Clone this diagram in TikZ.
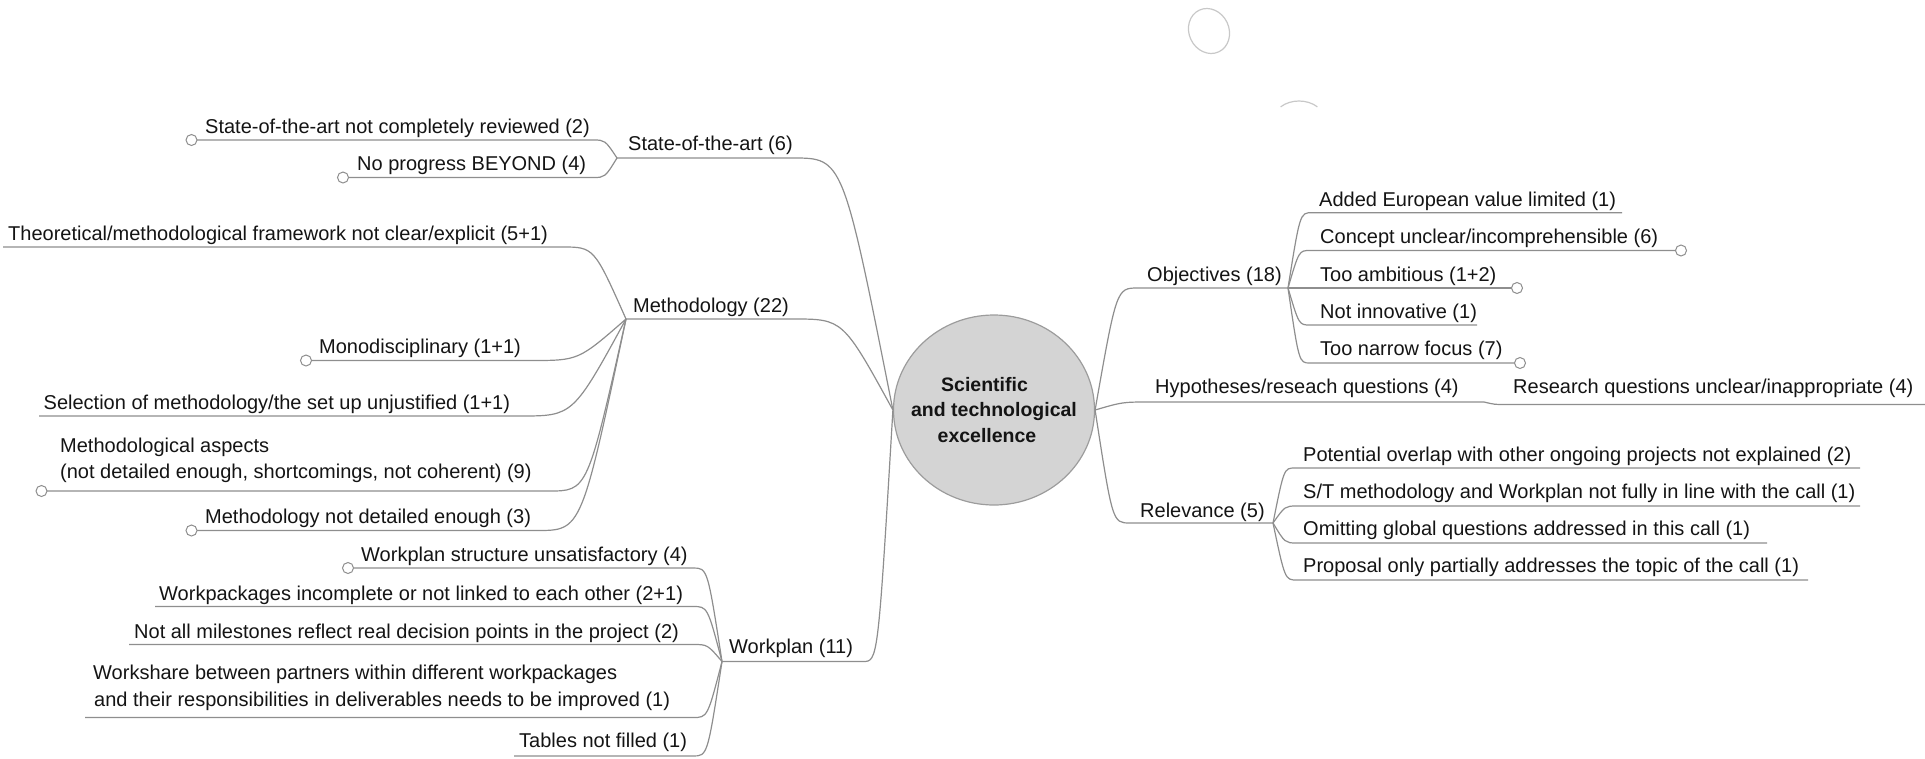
\documentclass[tikz,border=0pt]{standalone}
\usepackage{fontspec}
\setmainfont{Liberation Sans}
\usetikzlibrary{shapes.geometric,calc}
\definecolor{lc}{HTML}{8E8E8E}
\definecolor{txt}{HTML}{141414}
\definecolor{cfill}{HTML}{D4D4D4}
\definecolor{cdraw}{HTML}{9C9C9C}
\definecolor{deco}{HTML}{C8C8C8}
\newcommand\fs{\fontsize{20}{26}\selectfont}
\newcommand\hubfont{\fontsize{19.5}{25.5}\selectfont\bfseries}
% line from #1 to #2, then curve from #2 into junction #3
\newcommand\uline[3]{\draw[ln] (#1) -- (#2) .. controls ($(#2)!.5!(#3|-#2)$) .. (#3);}
\begin{document}
\begin{tikzpicture}[x=1pt,y=-1pt,
  lbl/.style={anchor=base west,inner sep=0pt,font=\fs,text=txt},
  ln/.style={draw=lc,line width=1.2pt},
  endc/.style={circle,draw=lc,fill=white,line width=1pt,minimum size=11pt,inner sep=0pt},
  hub/.style={ellipse,draw=cdraw,fill=cfill,line width=1.2pt,minimum width=201pt,minimum height=190pt,inner sep=0pt},
  hubtext/.style={align=center,font=\hubfont,text=txt,inner sep=0pt}]
\useasboundingbox (0,0) rectangle (1925,758);

% decorations at top
\draw[deco,line width=1.2pt,rotate around={25:(1209,31)}] (1209,31) ellipse [x radius=20pt,y radius=23pt];
\draw[deco,line width=1.2pt] (1299,121) ++(45:26pt and 20pt) arc[start angle=45,end angle=135,x radius=26pt,y radius=20pt];

% hub
\node[hub] (hub) at (994,410) {};
\node[hubtext] (hubt) at (994,410) {Scientific\hspace*{19pt}\\and technological\\excellence\hspace*{14pt}};

% ---------- State-of-the-art ----------
\coordinate (J1) at (617,158); \coordinate (S1R) at (793,158);
\node[lbl] (sota) at (628,150) {State-of-the-art (6)};
\uline{J1}{S1R}{hub.west}
\coordinate (a1L) at (191.5,140); \coordinate (a1R) at (593,140);
\node[lbl] (a1) at (205,133) {State-of-the-art not completely reviewed (2)};
\uline{a1L}{a1R}{J1}
\coordinate (a2L) at (343,177.5); \coordinate (a2R) at (593,177.5);
\node[lbl] (a2) at (357,170) {No progress BEYOND (4)};
\uline{a2L}{a2R}{J1}

% ---------- Methodology ----------
\coordinate (J2) at (626,319); \coordinate (M1R) at (793,319);
\node[lbl] (meth) at (633,312) {Methodology (22)};
\uline{J2}{M1R}{hub.west}
\coordinate (m1L) at (3,247); \coordinate (m1R) at (562,247);
\node[lbl] (m1) at (8,240) {Theoretical/methodological framework not clear/explicit (5+1)};
\uline{m1L}{m1R}{J2}
\coordinate (m2L) at (306,360.5); \coordinate (m2R) at (531,360.5);
\node[lbl] (m2) at (319,353) {Monodisciplinary (1+1)};
\uline{m2L}{m2R}{J2}
\coordinate (m3L) at (39,416); \coordinate (m3R) at (520,416);
\node[lbl] (m3) at (43.5,409) {Selection of methodology/the set up unjustified (1+1)};
\uline{m3L}{m3R}{J2}
\coordinate (m4L) at (41.5,491); \coordinate (m4R) at (549,491);
\node[lbl] (m4a) at (60,452) {Methodological aspects};
\node[lbl] (m4b) at (60,478) {(not detailed enough, shortcomings, not coherent) (9)};
\uline{m4L}{m4R}{J2}
\coordinate (m5L) at (191.5,530.5); \coordinate (m5R) at (537,530.5);
\node[lbl] (m5) at (205,523) {Methodology not detailed enough (3)};
\uline{m5L}{m5R}{J2}

% ---------- Workplan ----------
\coordinate (J3) at (722,661.5); \coordinate (W1R) at (863,661.5);
\node[lbl] (work) at (729,653) {Workplan (11)};
\uline{J3}{W1R}{hub.west}
\coordinate (w1L) at (348,568); \coordinate (w1R) at (693,568);
\node[lbl] (w1) at (361,561) {Workplan structure unsatisfactory (4)};
\uline{w1L}{w1R}{J3}
\coordinate (w2L) at (155,606.5); \coordinate (w2R) at (693,606.5);
\node[lbl] (w2) at (159,600) {Workpackages incomplete or not linked to each other (2+1)};
\uline{w2L}{w2R}{J3}
\coordinate (w3L) at (129,644.5); \coordinate (w3R) at (693,644.5);
\node[lbl] (w3) at (134,638) {Not all milestones reflect real decision points in the project (2)};
\uline{w3L}{w3R}{J3}
\coordinate (w4L) at (85,717.5); \coordinate (w4R) at (693,717.5);
\node[lbl] (w4a) at (93,679) {Workshare between partners within different workpackages};
\node[lbl] (w4b) at (94,706) {and their responsibilities in deliverables needs to be improved (1)};
\uline{w4L}{w4R}{J3}
\coordinate (w5L) at (514,756); \coordinate (w5R) at (693,756);
\node[lbl] (w5) at (519,747.5) {Tables not filled (1)};
\uline{w5L}{w5R}{J3}

% ---------- Objectives ----------
\coordinate (J4) at (1288,288); \coordinate (OL) at (1138,288);
\node[lbl] (obj) at (1147,281) {Objectives (18)};
\uline{J4}{OL}{hub.east}
\coordinate (o1R) at (1622,212.7); \coordinate (o1L) at (1312,212.7);
\node[lbl] (o1) at (1319,206) {Added European value limited (1)};
\uline{o1R}{o1L}{J4}
\coordinate (o2R) at (1681,250.5); \coordinate (o2L) at (1310,250.5);
\node[lbl] (o2) at (1320,243) {Concept unclear/incomprehensible (6)};
\uline{o2R}{o2L}{J4}
\coordinate (o3R) at (1517,288); \coordinate (o3L) at (1300,288);
\node[lbl] (o3) at (1320,281) {Too ambitious (1+2)};
\uline{o3R}{o3L}{J4}
\coordinate (o4R) at (1477,325); \coordinate (o4L) at (1310,325);
\node[lbl] (o4) at (1320,318) {Not innovative (1)};
\uline{o4R}{o4L}{J4}
\coordinate (o5R) at (1520,363); \coordinate (o5L) at (1310,363);
\node[lbl] (o5) at (1320,355.5) {Too narrow focus (7)};
\uline{o5R}{o5L}{J4}

% ---------- Hypotheses ----------
\coordinate (HR) at (1484,402); \coordinate (HL) at (1150,402);
\node[lbl] (hyp) at (1155,393) {Hypotheses/reseach questions (4)};
\uline{HR}{HL}{hub.east}
\coordinate (h1R) at (1925,404.5); \coordinate (h1L) at (1505,404.5);
\node[lbl] (h1) at (1513,393) {Research questions unclear/inappropriate (4)};
\uline{h1R}{h1L}{HR}

% ---------- Relevance ----------
\coordinate (J5) at (1273,523); \coordinate (RL) at (1130,523);
\node[lbl] (rel) at (1140,517) {Relevance (5)};
\uline{J5}{RL}{hub.east}
\coordinate (r1R) at (1860,468); \coordinate (r1L) at (1295,468);
\node[lbl] (r1) at (1303,461) {Potential overlap with other ongoing projects not explained (2)};
\uline{r1R}{r1L}{J5}
\coordinate (r2R) at (1860,506); \coordinate (r2L) at (1297,506);
\node[lbl] (r2) at (1303,498.5) {S/T methodology and Workplan not fully in line with the call (1)};
\uline{r2R}{r2L}{J5}
\coordinate (r3R) at (1767,543); \coordinate (r3L) at (1297,543);
\node[lbl] (r3) at (1303,535.5) {Omitting global questions addressed in this call (1)};
\uline{r3R}{r3L}{J5}
\coordinate (r4R) at (1808,580); \coordinate (r4L) at (1297,580);
\node[lbl] (r4) at (1303,572) {Proposal only partially addresses the topic of the call (1)};
\uline{r4R}{r4L}{J5}

% end markers
\foreach \p in {a1L,a2L,m2L,m4L,m5L,w1L,o2R,o3R,o5R}
  \node[endc] at (\p) {};
\end{tikzpicture}
\end{document}
